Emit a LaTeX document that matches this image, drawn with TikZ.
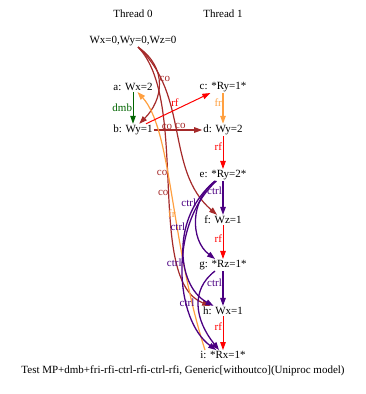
\documentclass[tikz,border=0pt]{standalone}
\usepackage{fontspec}
\setmainfont{Liberation Serif}
\usetikzlibrary{arrows.meta}
\definecolor{cobrown}{HTML}{A52A2A}
\definecolor{frorange}{HTML}{FFA040}
\definecolor{dmbgreen}{HTML}{006400}
\definecolor{ctrlpurple}{HTML}{4B0082}
\begin{document}
\begin{tikzpicture}[x=1pt, y=1pt, >={Triangle[length=8pt,width=5.5pt]},
    font=\fontsize{11}{13}\selectfont,
    evt/.style={inner sep=1pt},
    lab/.style={inner sep=0.5pt},
    co/.style={->, cobrown, line width=1.2pt},
    rf/.style={->, red, line width=1pt},
    fr/.style={->, frorange, line width=1.2pt},
    dmb/.style={->, dmbgreen, line width=1pt},
    ctrl/.style={->, ctrlpurple, line width=1.3pt}]
    \useasboundingbox (0,0) rectangle (366,-394);
    % Threads
    \node (th0) at (133, -14) {Thread 0};
    \node (th1) at (223, -14) {Thread 1};
    \node[evt] (init) at (133, -41) {Wx=0,Wy=0,Wz=0};
    \node[evt] (a) at (133, -87) {a: Wx=2};
    \node[evt] (b) at (133, -130) {b: Wy=1};
    \node[evt] (c) at (223, -87) {c: *Ry=1*};
    \node[evt] (d) at (223, -130) {d: Wy=2};
    \node[evt] (e) at (223, -175) {e: *Ry=2*};
    \node[evt] (f) at (223, -220) {f: Wz=1};
    \node[evt] (g) at (223, -265) {g: *Rz=1*};
    \node[evt] (h) at (223, -311) {h: Wx=1};
    \node[evt] (i) at (223, -355) {i: *Rx=1*};
    \node (cap) at (183, -371) {Test MP+dmb+fri-rfi-ctrl-rfi-ctrl-rfi, Generic[withoutco](Uniproc model)};

    % co
    \draw[co] ([xshift=5pt]init.south) .. controls (168, -68) and (163, -100) .. (b) node[pos=0.43, right, lab, text=cobrown] {co};
    \draw[co] (b) -- (d) node[pos=0.55, above, lab, text=cobrown] {co};
    \draw[co] ([xshift=5pt]init.south) .. controls (190, -95) and (165, -170) .. (f) node[pos=0.47, left, lab, xshift=-3pt, text=cobrown] {co};
    \draw[co] ([xshift=5pt]init.south) .. controls (190, -100) and (145, -280) .. (h)
        node[pos=0.46, left, lab, text=cobrown] {co} node[pos=0.52, left, lab, text=cobrown] {co};

    % fr, rf
    \draw[fr] ([xshift=-18pt]i.north) .. controls (170, -240) and (172, -130) .. (a) node[pos=0.43, left, lab, xshift=2pt, text=frorange] {fr};
    \draw[fr] (c) -- (d) node[pos=0.3, left, lab, text=frorange] {fr};
    \draw[rf] (b) -- (c) node[pos=0.45, above, text=red] {rf};
    \draw[rf] (d) -- (e) node[pos=0.33, left, lab, text=red] {rf};
    \draw[rf] (f) -- (g) node[pos=0.4, left, lab, text=red] {rf};
    \draw[rf] (h) -- (i) node[pos=0.3, left, lab, text=red] {rf};
    \draw[dmb] (a) -- (b) node[pos=0.5, left, lab, text=dmbgreen] {dmb};

    % ctrl
    \draw[ctrl] (e) -- (f) node[pos=0.3, left, lab, text=ctrlpurple] {ctrl};
    \draw[ctrl] (g) -- (h) node[pos=0.33, left, lab, text=ctrlpurple] {ctrl};
    \draw[ctrl] (e) .. controls (190, -200) and (190, -240) .. (g) node[pos=0.3, left, lab, xshift=-2pt, text=ctrlpurple] {ctrl};
    \draw[ctrl] (e) .. controls (172, -215) and (175, -285) .. (h) node[pos=0.35, left, lab, text=ctrlpurple] {ctrl};
    \draw[ctrl] (e) .. controls (168, -225) and (175, -320) .. (i) node[pos=0.46, left, lab, text=ctrlpurple] {ctrl};
    \draw[ctrl] (g) .. controls (190, -290) and (195, -320) .. (i) node[pos=0.45, left, lab, xshift=-3pt, text=ctrlpurple] {ctrl};
\end{tikzpicture}
\end{document}
